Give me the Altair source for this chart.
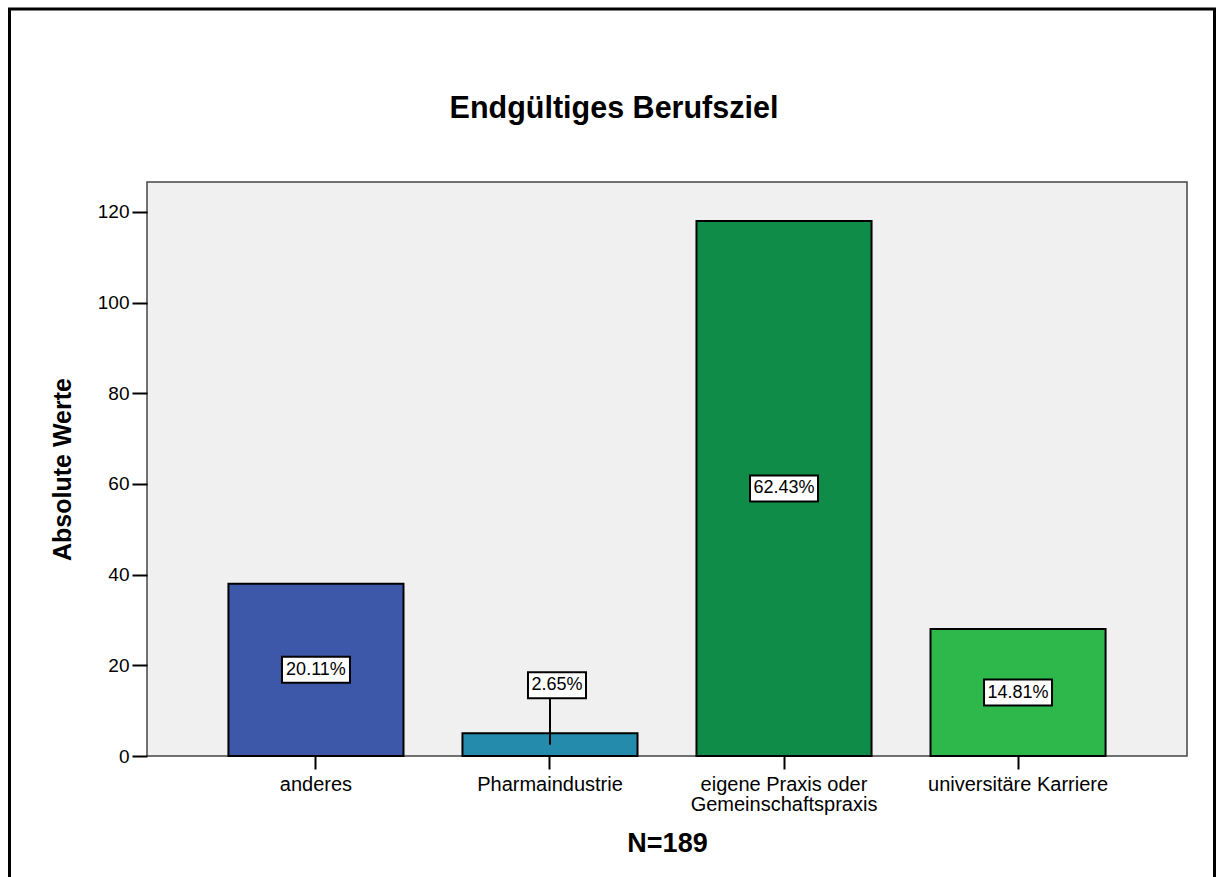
import altair as alt
import pandas as pd

# Final career goal: absolute counts per category
categories = [
    "anderes",
    "Pharmaindustrie",
    "eigene Praxis oder Gemeinschaftspraxis",
    "universitäre Karriere",
]
counts = [38, 5, 118, 28]
colors = ["#3d57a9", "#248bad", "#0f8c48", "#2eb84c"]
y_ticks = [0, 20, 40, 60, 80, 100, 120]

N = sum(counts)
FONT = "Liberation Sans"
SHORT_BAR = 10     # bars below this count are too short to hold their label
LIFTED_Y = 15.6    # height at which the label of a short bar is placed (with leader line)
BOX_H = 26         # height of the percentage label boxes in px

rows = []
for cat, n in zip(categories, counts):
    pct = f"{n / N * 100:.2f}%"
    w = 10 * len(pct) + 8          # box width follows the text length
    r = BOX_H / w                  # half height in symbol units (symbol spans -1..1 horizontally)
    rows.append(dict(
        cat=cat, count=n, pct=pct, mid=n / 2,
        label_y=LIFTED_Y if n < SHORT_BAR else n / 2,
        box_shape=f"M-1,{-r:.4f}L1,{-r:.4f}L1,{r:.4f}L-1,{r:.4f}Z",
        box_size=w * w,
    ))
df = pd.DataFrame(rows)

x_enc = alt.X(
    "cat:N",
    sort=categories,
    scale=alt.Scale(paddingInner=0.252, paddingOuter=0.348),
    axis=alt.Axis(
        title=f"N={N}",
        labelAngle=0,
        labelFont=FONT,
        labelFontSize=20,
        labelColor="black",
        labelPadding=5,
        labelLineHeight=20,
        labelLimit=400,
        labelExpr="split(replace(datum.label, ' oder ', ' oder|'), '|')",
        tickColor="black",
        tickWidth=2,
        tickSize=13,
        domain=False,
        titleFont=FONT,
        titleFontSize=27,
        titleFontWeight="bold",
        titleColor="black",
        titleBaseline="middle",
        titleY=87,
    ),
)

y_scale = alt.Scale(domain=[0, 126.6], nice=False, zero=True)
y_axis = alt.Axis(
    title="Absolute Werte",
    values=y_ticks,
    grid=False,
    domain=False,
    tickColor="black",
    tickWidth=2,
    tickSize=15,
    labelFont=FONT,
    labelFontSize=19,
    labelColor="black",
    labelPadding=3,
    titleFont=FONT,
    titleFontSize=25,
    titleFontWeight="bold",
    titleColor="black",
    titleX=-72,
)

base = alt.Chart(df)

# outer frame around the whole figure
frame = alt.Chart(alt.Data(values=[{}])).mark_rect(
    fillOpacity=0, stroke="black", strokeWidth=3
).encode(
    x=alt.value(-137.5), x2=alt.value(1067.5),
    y=alt.value(-173), y2=alt.value(720),
)

bars = base.mark_bar(stroke="black", strokeWidth=2).encode(
    x=x_enc,
    y=alt.Y("count:Q", scale=y_scale, axis=y_axis),
    color=alt.Color("cat:N", scale=alt.Scale(domain=categories, range=colors), legend=None),
)

lifted = "datum.label_y > datum.mid"
inside = "datum.label_y <= datum.mid"

leader = base.transform_filter(lifted).mark_rule(
    color="black", strokeWidth=2
).encode(
    x=x_enc,
    y=alt.Y("mid:Q", scale=y_scale),
    y2="label_y:Q",
)


def label_layers(cond, dx):
    boxes = base.transform_filter(cond).mark_point(
        filled=True, fill="white", stroke="black", strokeWidth=2, opacity=1, xOffset=dx
    ).encode(
        x=x_enc,
        y=alt.Y("label_y:Q", scale=y_scale),
        shape=alt.Shape("box_shape:N", scale=None),
        size=alt.Size("box_size:Q", scale=None),
    )
    texts = base.transform_filter(cond).mark_text(
        font=FONT, fontSize=18, color="black", align="center", baseline="middle", xOffset=dx
    ).encode(
        x=x_enc,
        y=alt.Y("label_y:Q", scale=y_scale),
        text="pct:N",
    )
    return [boxes, texts]


chart = alt.layer(
    frame, bars, leader, *label_layers(inside, 0), *label_layers(lifted, 7)
).properties(
    width=1040,
    height=574,
    autosize="none",
    padding={"left": 147, "top": 182, "right": 30, "bottom": 121},
    background="white",
    title=alt.Title(
        "Endgültiges Berufsziel",
        font=FONT,
        fontSize=30.5,
        fontWeight="bold",
        color="black",
        anchor="middle",
        baseline="alphabetic",
        dx=-53,
        offset=-141,
    ),
).configure_view(
    fill="#f0f0f0", stroke="#444444", strokeWidth=1.5
)

chart.save("out.html", embed_options={"renderer": "svg", "actions": False})
